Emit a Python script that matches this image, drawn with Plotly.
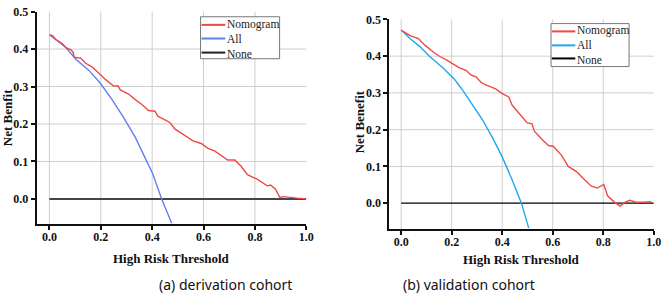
import plotly.graph_objects as go

# ---------------- data: (a) derivation cohort ----------------
a_nomo_x = [0.0, 0.013, 0.026, 0.05, 0.064, 0.084, 0.093, 0.096, 0.122, 0.141, 0.167, 0.193, 0.218,
            0.25, 0.267, 0.276, 0.308, 0.334, 0.36, 0.386, 0.411, 0.422, 0.45, 0.469, 0.488, 0.514,
            0.559, 0.591, 0.617, 0.643, 0.668, 0.694, 0.722, 0.746, 0.771, 0.81, 0.848, 0.861, 0.88,
            0.897, 0.913, 0.932, 0.964, 1.0]
a_nomo_y = [0.438, 0.436, 0.425, 0.415, 0.404, 0.398, 0.391, 0.378, 0.376, 0.362, 0.352, 0.334, 0.319,
            0.301, 0.302, 0.291, 0.28, 0.265, 0.252, 0.236, 0.234, 0.221, 0.211, 0.204, 0.187, 0.176,
            0.155, 0.148, 0.135, 0.128, 0.117, 0.104, 0.104, 0.087, 0.065, 0.052, 0.035, 0.037, 0.026,
            0.004, 0.006, 0.004, 0.002, 0.0]
a_all_x = [0.0, 0.064, 0.103, 0.154, 0.199, 0.244, 0.289, 0.334, 0.373, 0.401, 0.437, 0.476]
a_all_y = [0.438, 0.404, 0.373, 0.343, 0.308, 0.265, 0.217, 0.165, 0.109, 0.069, 0.0, -0.065]
a_none_x = [0.0, 1.0]
a_none_y = [0.0, 0.0]

# ---------------- data: (b) validation cohort ----------------
b_nomo_x = [0.0, 0.035, 0.068, 0.094, 0.126, 0.153, 0.179, 0.205, 0.231, 0.258, 0.276, 0.296, 0.316,
            0.335, 0.374, 0.4, 0.426, 0.439, 0.472, 0.498, 0.518, 0.527, 0.557, 0.583, 0.602, 0.635,
            0.661, 0.694, 0.726, 0.752, 0.776, 0.802, 0.817, 0.844, 0.867, 0.887, 0.906, 0.928, 0.961, 0.99]
b_nomo_y = [0.471, 0.456, 0.448, 0.43, 0.412, 0.399, 0.39, 0.38, 0.368, 0.361, 0.349, 0.344, 0.329,
            0.322, 0.311, 0.298, 0.289, 0.267, 0.241, 0.219, 0.216, 0.196, 0.174, 0.157, 0.155, 0.13,
            0.1, 0.086, 0.064, 0.047, 0.041, 0.051, 0.02, 0.003, -0.008, 0.003, 0.008, 0.003, 0.003, 0.004]
b_all_x = [0.0, 0.035, 0.074, 0.113, 0.166, 0.211, 0.244, 0.283, 0.322, 0.361, 0.4, 0.439, 0.476, 0.505]
b_all_y = [0.471, 0.448, 0.426, 0.399, 0.368, 0.337, 0.307, 0.267, 0.227, 0.179, 0.126, 0.064, 0.0, -0.068]
b_none_x = [0.0, 1.0]
b_none_y = [0.0, 0.0]

x_ticks = [0.0, 0.2, 0.4, 0.6, 0.8, 1.0]
x_tick_text = ["0.0", "0.2", "0.4", "0.6", "0.8", "1.0"]
y_ticks = [0.0, 0.1, 0.2, 0.3, 0.4, 0.5]
y_tick_text = ["0.0", "0.1", "0.2", "0.3", "0.4", "0.5"]
x_grid = [0.0, 0.2, 0.4, 0.6, 0.8]
y_grid = [0.1, 0.2, 0.3, 0.4]

legend_names = ["Nomogram", "All", "None"]
RED = "#f04848"
BLUE_A = "#6080f0"
BLUE_B = "#1ea8ee"

W, H = 669, 294
SERIF = "Liberation Serif"
SANS = "Noto Sans"

fig = go.Figure()

fig.add_trace(go.Scatter(x=a_none_x, y=a_none_y, mode="lines", line=dict(color="#454545", width=2),
                         xaxis="x", yaxis="y", showlegend=False))
fig.add_trace(go.Scatter(x=a_all_x, y=a_all_y, mode="lines", line=dict(color=BLUE_A, width=1.4),
                         xaxis="x", yaxis="y", showlegend=False))
fig.add_trace(go.Scatter(x=a_nomo_x, y=a_nomo_y, mode="lines", line=dict(color=RED, width=1.4),
                         xaxis="x", yaxis="y", showlegend=False))

fig.add_trace(go.Scatter(x=b_none_x, y=b_none_y, mode="lines", line=dict(color="#000000", width=1.3),
                         xaxis="x2", yaxis="y2", showlegend=False))
fig.add_trace(go.Scatter(x=b_all_x, y=b_all_y, mode="lines", line=dict(color=BLUE_B, width=1.4),
                         xaxis="x2", yaxis="y2", showlegend=False))
fig.add_trace(go.Scatter(x=b_nomo_x, y=b_nomo_y, mode="lines", line=dict(color=RED, width=1.4),
                         xaxis="x2", yaxis="y2", showlegend=False))

def px_x(p):
    return p / W

def px_y(p):
    return 1 - p / H

tickfont = dict(family=SERIF, size=12, color="#111", weight="bold")

def xax(domain, rng, anchor):
    return dict(domain=domain, range=rng, anchor=anchor, showgrid=False, zeroline=False,
                showline=True, linecolor="#111", linewidth=2, ticks="outside", ticklen=4,
                tickwidth=1.5, tickcolor="#111", tickvals=x_ticks, ticktext=x_tick_text,
                tickfont=tickfont, fixedrange=True, ticklabelstandoff=-4)

def yax(domain, rng, anchor):
    return dict(domain=domain, range=rng, anchor=anchor, showgrid=False, zeroline=False,
                showline=True, linecolor="#111", linewidth=2, ticks="outside", ticklen=4,
                tickwidth=1.5, tickcolor="#111", tickvals=y_ticks, ticktext=y_tick_text,
                tickfont=tickfont, fixedrange=True)

fig.update_layout(
    width=W, height=H, margin=dict(l=0, r=0, t=0, b=0),
    paper_bgcolor="white", plot_bgcolor="white", showlegend=False,
    xaxis=xax([px_x(37), px_x(310)], [-0.05, 1.0], "y"),
    yaxis=yax([px_y(222.7), px_y(4.7)], [-0.068, 0.5], "x"),
    xaxis2=xax([px_x(394), px_x(661.7)], [-0.047, 1.0], "y2"),
    yaxis2=yax([px_y(227.7), px_y(12.7)], [-0.071, 0.5], "x2"),
)

shapes = []
for xr, yr in (("x", "y"), ("x2", "y2")):
    for gx in x_grid:
        shapes.append(dict(type="line", xref=xr, yref=yr + " domain", x0=gx, x1=gx, y0=0, y1=1,
                           line=dict(color="#cfcfcf", width=1), layer="below"))
    for gy in y_grid:
        shapes.append(dict(type="line", xref=xr + " domain", yref=yr, x0=0, x1=1, y0=gy, y1=gy,
                           line=dict(color="#cfcfcf", width=1), layer="below"))

annotations = []

# manual legends (one multi-line text block per legend)
def add_legend(box, rows, line_x, text_x, colors):
    x0, x1, y0, y1 = box
    shapes.append(dict(type="rect", xref="paper", yref="paper", x0=px_x(x0), x1=px_x(x1),
                       y0=px_y(y1), y1=px_y(y0), line=dict(color="#777", width=1),
                       fillcolor="white", layer="above"))
    for ry, c in zip(rows, colors):
        shapes.append(dict(type="line", xref="paper", yref="paper", x0=px_x(line_x[0]),
                           x1=px_x(line_x[1]), y0=px_y(ry), y1=px_y(ry),
                           line=dict(color=c, width=2), layer="above"))
    annotations.append(dict(text="<br>".join(legend_names), xref="paper", yref="paper",
                            x=px_x(text_x), y=px_y(rows[1]), xanchor="left", yanchor="middle",
                            align="left", showarrow=False, borderpad=0,
                            font=dict(family=SERIF, size=11.5, color="#222")))

add_legend((203, 283, 10, 53), (18.3, 32.3, 46.7), (204, 228), 229, (RED, BLUE_A, "#222"))
add_legend((557.7, 636.7, 17, 61), (25, 39.3, 52.7), (558.5, 582.3), 583, (RED, BLUE_B, "#000"))

# axis titles
title_font = dict(family=SERIF, size=13, color="#111", weight="bold")
annotations += [
    dict(text="High Risk Threshold", xref="paper", yref="paper", x=px_x(173.5), y=px_y(257.5),
         xanchor="center", yanchor="middle", showarrow=False, font=title_font, borderpad=0),
    dict(text="High Risk Threshold", xref="paper", yref="paper", x=px_x(528), y=px_y(258.5),
         xanchor="center", yanchor="middle", showarrow=False, font=title_font, borderpad=0),
    dict(text="Net Benfit", xref="paper", yref="paper", x=px_x(7.5), y=px_y(113.5), textangle=-90,
         xanchor="center", yanchor="middle", showarrow=False, font=title_font),
    dict(text="Net Benefit", xref="paper", yref="paper", x=px_x(363.5), y=px_y(118), textangle=-90,
         xanchor="center", yanchor="middle", showarrow=False, font=title_font),
    dict(text="(a) derivation cohort", xref="paper", yref="paper", x=px_x(228), y=px_y(284.5),
         xanchor="center", yanchor="middle", showarrow=False, borderpad=0,
         font=dict(family=SANS, size=14, color="#111")),
    dict(text="(b) validation cohort", xref="paper", yref="paper", x=px_x(475), y=px_y(284),
         xanchor="center", yanchor="middle", showarrow=False, borderpad=0,
         font=dict(family=SANS, size=14, color="#111")),
]

fig.update_layout(shapes=shapes, annotations=annotations)
fig.write_html("out.html", config={"displayModeBar": False},
               post_script="document.body.style.margin='0';document.body.style.overflow='hidden';")
